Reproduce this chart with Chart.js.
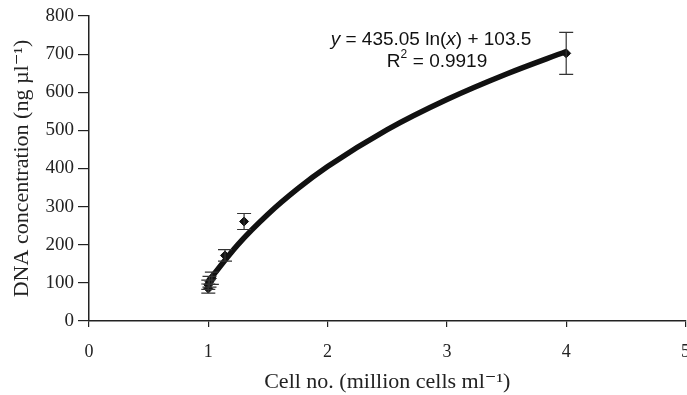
<!DOCTYPE html>
<html>
<head>
<meta charset="utf-8">
<script src="https://cdn.jsdelivr.net/npm/chart.js@4.4.1/dist/chart.umd.min.js"></script>
<style>
    html, body { margin: 0; padding: 0; background: #fff; overflow: hidden; }
    #wrap { width: 691px; height: 395px; }
</style>
</head>
<body>
<div id="wrap"><canvas id="grafico"></canvas></div>
<script>
// measured points (x = million cells/ml, y = ng/ul) with their error bar half-heights
const cellNo = [1.00, 1.00, 1.01, 1.03, 1.14, 1.30, 4.00];
const dnaConc = [85, 95, 103, 112, 172, 261, 702];
const erro = [12, 12, 14, 16, 15, 21, 55];

// log trend line
const trendX = [1.0, 1.25, 1.5, 1.75, 2.0, 2.5, 3.0, 3.5, 4.0];
const trendY = [104, 201, 280, 347, 405, 502, 581, 648, 707];

const xTicks = [0, 1, 2, 3, 4, 5];
const yTicks = [0, 100, 200, 300, 400, 500, 600, 700, 800];

const serif = "'Liberation Serif', 'DejaVu Serif', serif";
const sans = "'Liberation Sans', Arial, sans-serif";

const errorBars = {
    id: "errorBars",
    afterDatasetsDraw(chart) {
        const ctx = chart.ctx;
        const xs = chart.scales.x, ys = chart.scales.y;
        ctx.save();
        ctx.strokeStyle = "#333";
        ctx.lineWidth = 1.2;
        cellNo.forEach((cx, i) => {
            const px = xs.getPixelForValue(cx);
            const top = ys.getPixelForValue(dnaConc[i] + erro[i]);
            const bot = ys.getPixelForValue(dnaConc[i] - erro[i]);
            ctx.beginPath();
            ctx.moveTo(px, top); ctx.lineTo(px, bot);
            ctx.moveTo(px - 7, top); ctx.lineTo(px + 7, top);
            ctx.moveTo(px - 7, bot); ctx.lineTo(px + 7, bot);
            ctx.stroke();
        });
        ctx.restore();
    }
};

const equacao = {
    id: "equacao",
    afterDraw(chart) {
        const ctx = chart.ctx;
        ctx.save();
        ctx.fillStyle = "#111";
        ctx.textBaseline = "middle";
        const f = "19px " + sans, fi = "italic 19px " + sans;
        const partes = [[fi, "y"], [f, " = 435.05 ln("], [fi, "x"], [f, ") + 103.5"]];
        let w = 0;
        partes.forEach(p => { ctx.font = p[0]; w += ctx.measureText(p[1]).width; });
        let x = 431 - w / 2;
        partes.forEach(p => { ctx.font = p[0]; ctx.fillText(p[1], x, 40); x += ctx.measureText(p[1]).width; });

        ctx.font = f;
        const r1 = "R", r2 = " = 0.9919";
        const wr = ctx.measureText(r1).width + 7 + ctx.measureText(r2).width;
        let rx = 437 - wr / 2;
        ctx.fillText(r1, rx, 62);
        rx += ctx.measureText(r1).width;
        ctx.font = "12px " + sans;
        ctx.fillText("2", rx, 55);
        rx += 7;
        ctx.font = f;
        ctx.fillText(r2, rx, 62);
        ctx.restore();
    }
};

new Chart(document.getElementById("grafico"), {
    type: "scatter",
    data: {
        datasets: [
            {
                label: "trend",
                data: trendX.map((x, i) => ({ x: x, y: trendY[i] })),
                showLine: true,
                borderColor: "#111",
                borderWidth: 5.5,
                pointRadius: 0,
                cubicInterpolationMode: "monotone"
            },
            {
                label: "DNA",
                data: cellNo.map((x, i) => ({ x: x, y: dnaConc[i] })),
                pointStyle: "rectRot",
                pointRadius: 4.5,
                backgroundColor: "#111",
                borderColor: "#111"
            }
        ]
    },
    options: {
        responsive: true,
        maintainAspectRatio: false,
        animation: false,
        layout: { padding: { top: 16, right: 0, left: 0, bottom: 0 } },
        plugins: { legend: { display: false }, tooltip: { enabled: false } },
        scales: {
            x: {
                type: "linear",
                min: 0, max: 5,
                afterBuildTicks: s => { s.ticks = xTicks.map(v => ({ value: v })); },
                afterFit: s => { s.height = 74; s.paddingLeft = 0; s.paddingRight = 0; },
                grid: { display: true, drawOnChartArea: false, drawTicks: true, tickLength: 6, color: "#222", lineWidth: 1.2 },
                border: { color: "#222", width: 1.5 },
                ticks: { color: "#222", font: { family: serif, size: 18 }, padding: 14, maxRotation: 0 },
                title: { display: true, text: "Cell no. (million cells ml\u207B\u00B9)", color: "#222", font: { family: serif, size: 22 }, padding: { top: 0, bottom: 0 } }
            },
            y: {
                min: 0, max: 800,
                afterBuildTicks: s => { s.ticks = yTicks.map(v => ({ value: v })); },
                afterFit: s => { s.width = 89; s.paddingTop = 0; s.paddingBottom = 0; },
                grid: { display: true, drawOnChartArea: false, drawTicks: true, tickLength: 11, color: "#222", lineWidth: 1.2 },
                border: { color: "#222", width: 1.5 },
                ticks: { color: "#222", font: { family: serif, size: 19 }, padding: 4 },
                title: { display: true, text: "DNA concentration (ng \u00B5l\u207B\u00B9)", color: "#222", font: { family: serif, size: 22 }, padding: { top: 9, bottom: 0 } }
            }
        }
    },
    plugins: [errorBars, equacao]
});
</script>
</body>
</html>
